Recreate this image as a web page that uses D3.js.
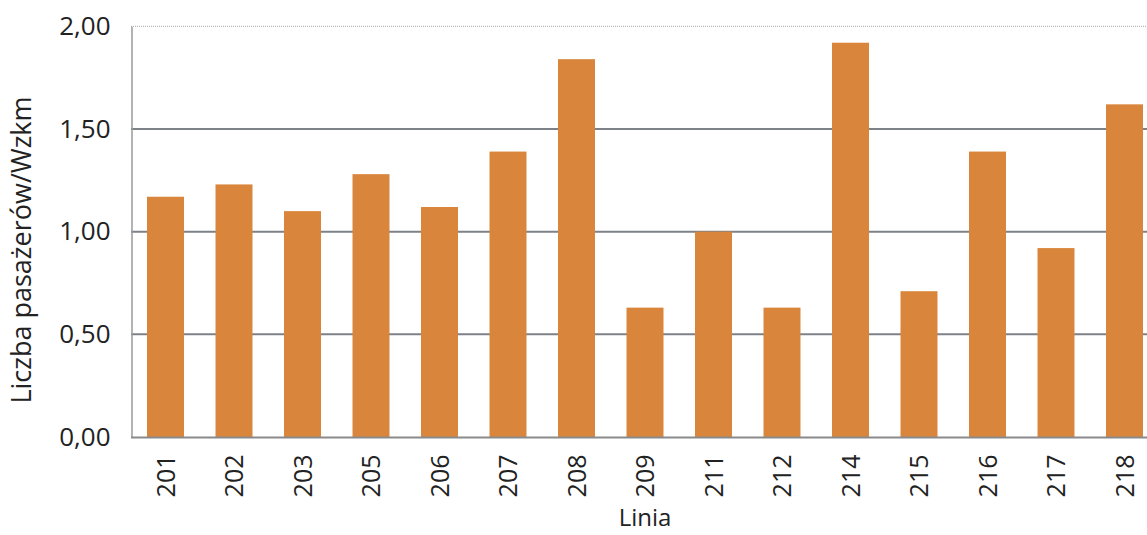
<!DOCTYPE html>
<html><head><meta charset="utf-8">
<script src="https://cdn.jsdelivr.net/npm/d3@7"></script>
<style>body{margin:0;background:#fff}svg{display:block}text{font-family:"Open Sans",sans-serif;fill:#222}</style>
</head><body><svg id="c" width="1147" height="535"></svg>
<script>
const categories = ["201","202","203","205","206","207","208","209","211","212","214","215","216","217","218"];
const values = [1.17,1.23,1.10,1.28,1.12,1.39,1.84,0.63,1.00,0.63,1.92,0.71,1.39,0.92,1.62];
const yTicks = [0,0.5,1.0,1.5,2.0];
const xTitle = "Linia";
const yTitle = "Liczba pasażerów/Wzkm";

const svg = d3.select("#c");
const x = d3.scaleBand().domain(categories).range([131.25,1158.75]).paddingInner(0.46).paddingOuter(0.23);
const y = d3.scaleLinear().domain([0,2]).range([437,26.3]);
const fmt = d => d3.format(".2f")(d).replace(".", ",");

// gridlines
svg.append("g").selectAll("line").data(yTicks.filter(d=>d>0 && d<2)).join("line")
  .attr("x1",131).attr("x2",1147).attr("y1",d=>y(d)).attr("y2",d=>y(d))
  .attr("stroke","#7d8288").attr("stroke-width",2);
// top frame
svg.append("line").attr("x1",131).attr("x2",1147).attr("y1",y(2)).attr("y2",y(2))
  .attr("stroke","#a8a8a8").attr("stroke-width",1).attr("stroke-dasharray","1,1");

// bars
svg.append("g").selectAll("rect").data(values).join("rect")
  .attr("x",(d,i)=>x(categories[i])).attr("width",x.bandwidth())
  .attr("y",d=>y(d)).attr("height",d=>y(0)-y(d))
  .attr("fill","#d9863c");

// y axis
const ya = svg.append("g").attr("transform","translate(131.5,0)")
  .call(d3.axisLeft(y).tickValues(yTicks).tickFormat(fmt).tickSize(0).tickPadding(21));
ya.select(".domain").attr("stroke","#9a9a9a").attr("stroke-width",1.5);
ya.selectAll("text").style("font-size","26px").attr("fill","#222");

// x axis
const xa = svg.append("g").attr("transform","translate(0,437.5)")
  .call(d3.axisBottom(x).tickSize(0));
xa.select(".domain").attr("stroke","#8a8a8a").attr("stroke-width",2).attr("d","M131,0H1147");
xa.selectAll("text").style("font-size","25px").attr("fill","#222")
  .attr("transform","rotate(-90)").attr("text-anchor","end")
  .attr("x",-17).attr("y",0).attr("dy","0.36em");

svg.append("text").attr("x",645).attr("y",526).attr("text-anchor","middle")
  .style("font-size","24px").text(xTitle);
svg.append("text").attr("transform","translate(31,250) rotate(-90)").attr("text-anchor","middle")
  .style("font-size","27px").text(yTitle);
</script></body></html>
